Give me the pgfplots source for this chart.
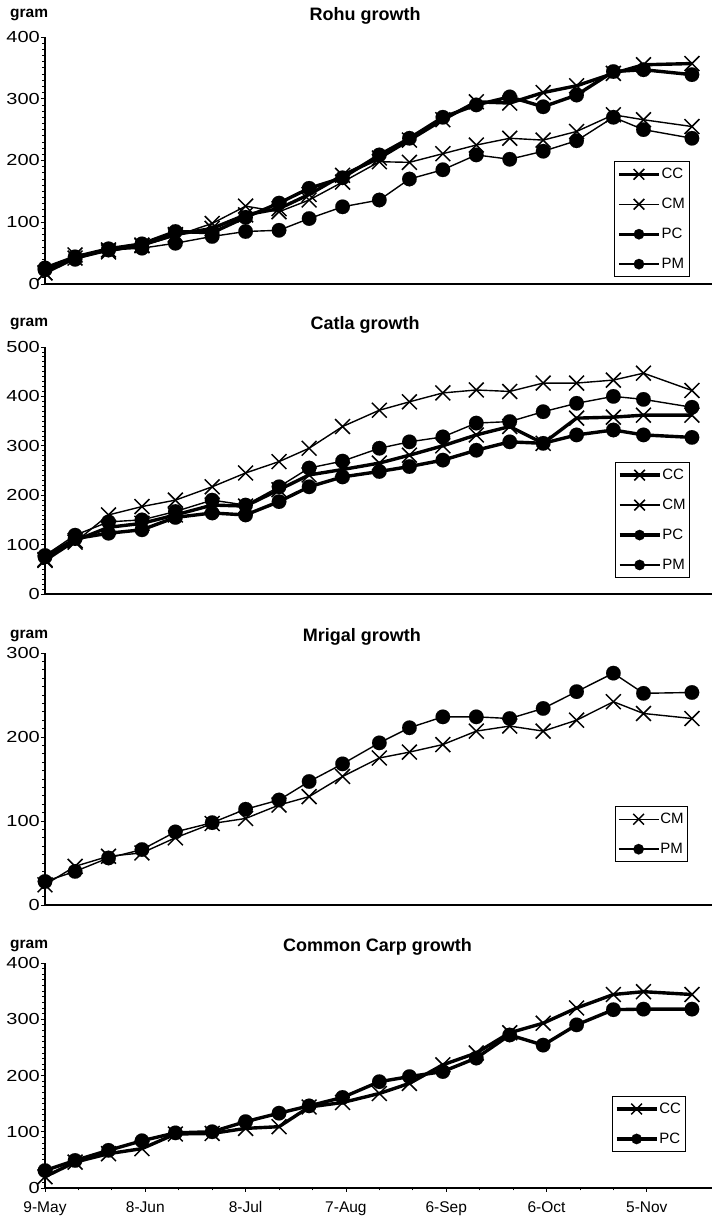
\documentclass[border=0pt]{standalone}
\usepackage{fontspec}
\setmainfont{Liberation Sans}
\usepackage{graphicx}
\usepackage{pgfplots}
\usepackage{pgfplotstable}
\pgfplotsset{compat=1.18}

\pgfplotstableread{
d CC CM PC PM
0 18 18 26 23
9 42 47 44 40
19 55 52 57 55
29 63 62 65 58
39 80 78 85 66
50 90 98 83 77
60 112 126 108 85
70 122 117 131 87
79 145 136 155 106
89 176 165 172 125
100 204 198 209 136
109 233 197 236 170
119 266 211 270 185
129 295 225 290 209
139 293 236 303 202
149 310 233 287 215
159 321 247 306 232
170 341 274 344 270
179 355 266 347 250
193.5 357 255 339 236
}\rohu

\pgfplotstableread{
d CC CM PC PM
0 68 70 75 78
9 108 105 112 119
19 135 160 123 146
29 143 177 130 150
39 160 190 155 167
50 180 217 164 190
60 178 245 160 180
70 211 268 187 217
79 241 295 217 255
89 252 339 237 269
100 265 372 248 295
109 281 389 258 308
119 300 407 271 318
129 322 413 291 346
139 339 410 308 349
149 305 427 305 369
159 356 427 322 386
170 358 433 332 400
179 362 447 322 394
193.5 362 412 317 378
}\catla

\pgfplotstableread{
d CM PM
0 24 28
9 46 40
19 58 56
29 62 66
39 80 87
50 97 98
60 103 114
70 119 125
79 129 147
89 153 168
100 175 193
109 182 211
119 191 224
129 207 224
139 213 222
149 207 234
159 220 254
170 242 276
179 228 252
193.5 222 253
}\mrigal

\pgfplotstableread{
d CC PC
0 20 31
9 46 49
19 61 67
29 70 84
39 96 98
50 97 100
60 106 118
70 109 133
79 144 146
89 152 161
100 168 189
109 186 198
119 219 207
129 240 231
139 276 272
149 293 254
159 320 290
170 344 317
179 349 318
193.5 344 318
}\carp

\tikzset{gram/.style={anchor=base west, font=\bfseries\fontsize{15.5}{17}\selectfont, inner sep=0pt}}

\pgfplotsset{
  panel/.style={
    scale only axis, width=667pt,
    xmin=0, xmax=199.5, ymin=0,
    axis x line*=bottom, axis y line*=left,
    axis line style={line width=1.2pt, black},
    /pgf/number format/assume math mode=true,
    yticklabel={\scalebox{1.25}[1]{\pgfmathprintnumber{\tick}}},
    yticklabel style={font=\fontsize{16}{18}\selectfont, inner sep=1pt},
    xticklabel style={font=\fontsize{15.5}{17}\selectfont, yshift=-6pt},
    tick style={black, line width=0.8pt},
    major tick length=4pt, minor tick length=2.5pt,
    tick align=outside,
    ytick distance=100,
    minor y tick num=9,
    xtick=\empty,
    clip=false,
    legend cell align=left,
    legend style={draw=black, line width=0.7pt, font=\fontsize{15}{17}\selectfont,
      inner xsep=3pt, inner ysep=5.7pt, row sep=16pt,
      nodes={inner sep=1pt}},
    legend image code/.code={\draw[mark repeat=2,mark phase=2,#1,/tikz/every mark/.append style={scale=0.72}] plot coordinates {(0pt,0pt) (20pt,0pt) (40pt,0pt)};},
    title style={font=\bfseries\fontsize{18}{20}\selectfont, anchor=base},
  },
  sCC/.style={black, line width=3.4pt, mark=x, mark size=10.5pt, mark options={line width=1.5pt}},
  sCM/.style={black, line width=1.4pt, mark=x, mark size=10.5pt, mark options={line width=1.5pt}},
  sPC/.style={black, line width=3.4pt, mark=*, mark size=7.3pt, mark options={line width=0.1pt}},
  sPM/.style={black, line width=1.4pt, mark=*, mark size=7.3pt, mark options={line width=0.1pt}},
}

\begin{document}
\begin{tikzpicture}
\useasboundingbox (0,0) rectangle (712pt,1221pt);

% Rohu
\begin{axis}[panel, at={(45pt,937pt)}, height=247pt, ymax=400,
  title={Rohu growth}, title style={at={(axis description cs:0.48,1)}, yshift=10pt},
  legend style={at={(axis description cs:0.966,0.028)}, anchor=south east}]
\addplot[sCC] table[x=d,y=CC]{\rohu};
\addplot[sCM] table[x=d,y=CM]{\rohu};
\addplot[sPC] table[x=d,y=PC]{\rohu};
\addplot[sPM] table[x=d,y=PM]{\rohu};
\legend{CC,CM,PC,PM}
\node[gram] at ([xshift=-35pt,yshift=19pt]axis description cs:0,1) {gram};
\end{axis}

% Catla
\begin{axis}[panel, at={(45pt,627pt)}, height=247pt, ymax=500,
  title={Catla growth}, title style={at={(axis description cs:0.48,1)}, yshift=11pt},
  legend style={at={(axis description cs:0.967,0.065)}, anchor=south east}]
\addplot[sCC] table[x=d,y=CC]{\catla};
\addplot[sCM] table[x=d,y=CM]{\catla};
\addplot[sPC] table[x=d,y=PC]{\catla};
\addplot[sPM] table[x=d,y=PM]{\catla};
\legend{CC,CM,PC,PM}
\node[gram] at ([xshift=-35pt,yshift=20pt]axis description cs:0,1) {gram};
\end{axis}

% Mrigal
\begin{axis}[panel, at={(45pt,316pt)}, height=252pt, ymax=300,
  title={Mrigal growth}, title style={at={(axis description cs:0.475,1)}, yshift=5pt},
  legend style={at={(axis description cs:0.964,0.17)}, anchor=south east}]
\addplot[sCM] table[x=d,y=CM]{\mrigal};
\addplot[sPM] table[x=d,y=PM]{\mrigal};
\legend{CM,PM}
\node[gram] at ([xshift=-35pt,yshift=14pt]axis description cs:0,1) {gram};
\end{axis}

% Common Carp
\begin{axis}[panel, at={(45pt,33pt)}, height=225pt, ymax=400,
  xtick={0,30,60,90,120,150,180},
  xticklabels={9-May,8-Jun,8-Jul,7-Aug,6-Sep,6-Oct,5-Nov},
  minor x tick num=2,
  title={Common Carp growth}, title style={at={(axis description cs:0.4985,1)}, yshift=5pt},
  legend style={at={(axis description cs:0.96,0.16)}, anchor=south east}]
\addplot[sCC] table[x=d,y=CC]{\carp};
\addplot[sPC] table[x=d,y=PC]{\carp};
\legend{CC,PC}
\node[gram] at ([xshift=-35pt,yshift=14pt]axis description cs:0,1) {gram};
\end{axis}
\end{tikzpicture}
\end{document}
